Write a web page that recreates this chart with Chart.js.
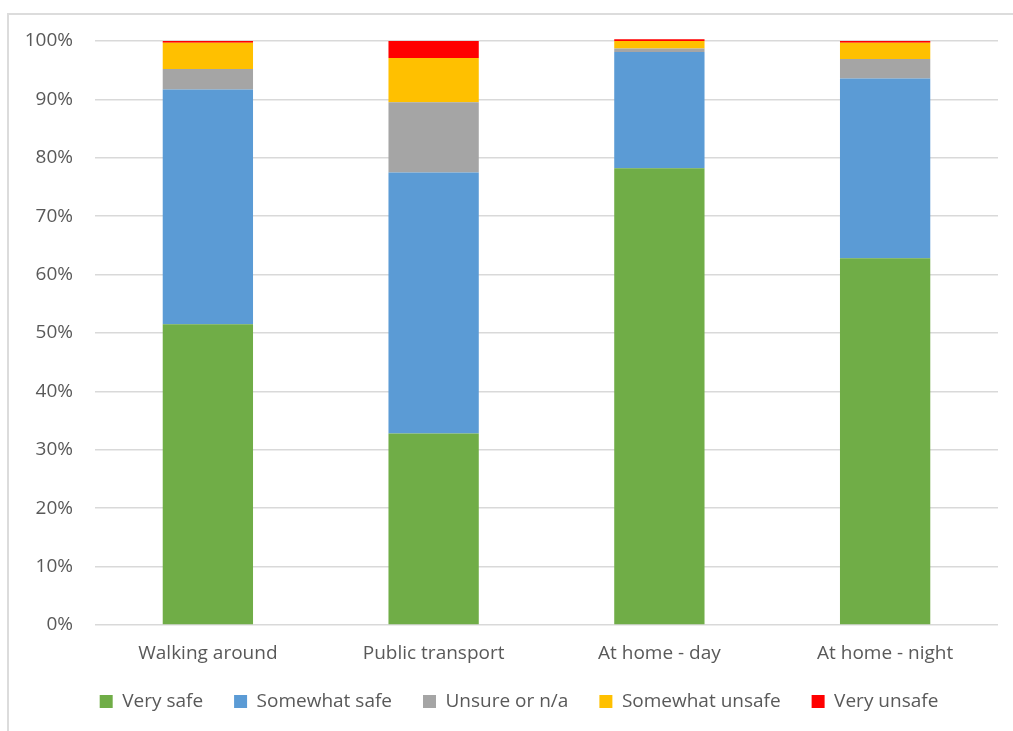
<!DOCTYPE html>
<html>
<head>
<meta charset="utf-8">
<script src="https://cdn.jsdelivr.net/npm/chart.js@4/dist/chart.umd.min.js"></script>
<style>
  html, body { margin: 0; padding: 0; background: #ffffff; }
  #wrap { position: relative; width: 1013px; height: 731px; }
  #frame { position: absolute; left: 7px; top: 13px; right: 0; bottom: 0;
           border-left: 2px solid #dcdcdc; border-top: 2px solid #dcdcdc; }
  canvas { position: absolute; left: 0; top: 0; }
</style>
</head>
<body>
<div id="wrap">
  <div id="frame"></div>
  <canvas id="c" width="1013" height="731"></canvas>
</div>
<script>
const categories = ["Walking around", "Public transport", "At home - day", "At home - night"];
const seriesNames = ["Very safe", "Somewhat safe", "Unsure or n/a", "Somewhat unsafe", "Very unsafe"];
const verySafe       = [51.5, 32.8, 78.2, 62.8];
const somewhatSafe   = [40.2, 44.7, 19.9, 30.8];
const unsure         = [3.5, 12.0, 0.6, 3.3];
const somewhatUnsafe = [4.5, 7.6, 1.3, 2.8];
const veryUnsafe     = [0.3, 2.9, 0.3, 0.3];
const yTicks = [0, 10, 20, 30, 40, 50, 60, 70, 80, 90, 100];
const colors = ["#70AD47", "#5B9BD5", "#A5A5A5", "#FFC000", "#FF0000"];

const values = [verySafe, somewhatSafe, unsure, somewhatUnsafe, veryUnsafe];
const textColor = "#595959";
const font = { family: "'Open Sans', sans-serif", size: 19 };

const legendShift = {
  id: "legendShift",
  afterLayout(chart) {
    const lg = chart.legend;
    if (lg) {
      lg.left += 20; lg.right += 20;
      lg.top -= 6; lg.bottom -= 6;
    }
  }
};

new Chart(document.getElementById("c"), {
  type: "bar",
  data: {
    labels: categories,
    datasets: seriesNames.map((n, i) => ({
      label: n,
      data: values[i],
      backgroundColor: colors[i],
      borderWidth: 0,
      categoryPercentage: 1.0,
      barPercentage: 0.4,
      clip: false
    }))
  },
  plugins: [legendShift],
  options: {
    responsive: false,
    animation: false,
    devicePixelRatio: 1,
    layout: { padding: { left: 0, right: 15, top: 41, bottom: 4 } },
    plugins: {
      tooltip: { enabled: false },
      legend: {
        position: "bottom",
        labels: {
          color: textColor,
          font: font,
          boxWidth: 13,
          boxHeight: 13,
          padding: 31
        }
      }
    },
    scales: {
      x: {
        stacked: true,
        grid: { display: false, drawTicks: false },
        border: { display: false },
        ticks: { color: textColor, font: font, padding: 17 },
        afterFit: (s) => { s.height = 42; }
      },
      y: {
        stacked: true,
        min: 0,
        max: 100,
        afterBuildTicks: (s) => { s.ticks = yTicks.map(v => ({ value: v })); },
        grid: { color: "#d9d9d9", lineWidth: 1.5, drawTicks: false },
        border: { display: false },
        ticks: {
          color: textColor,
          font: font,
          padding: 22,
          callback: (v) => v + "%"
        },
        afterFit: (s) => { s.width = 95; }
      }
    }
  }
});
</script>
</body>
</html>
